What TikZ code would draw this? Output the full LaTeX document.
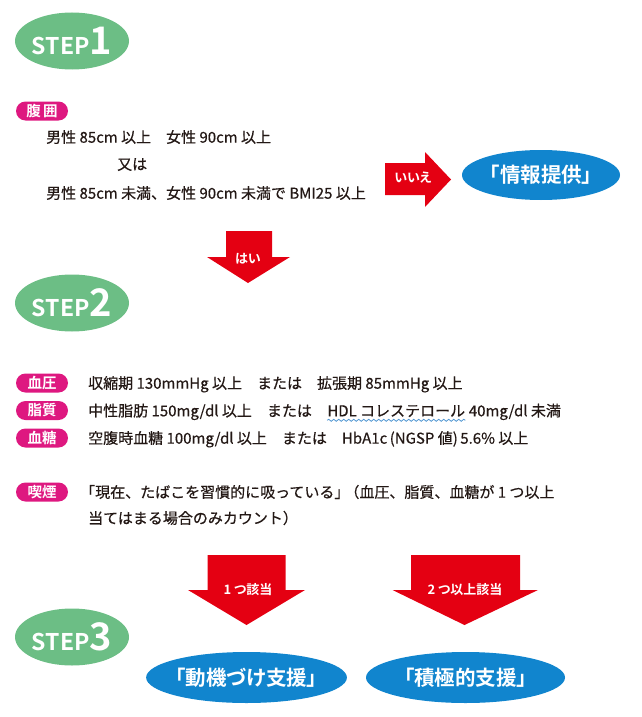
\documentclass[tikz,border=0pt]{standalone}
\usepackage{fontspec}
\setmainfont{Noto Sans CJK JP}[BoldFont={Noto Sans CJK JP Bold}]
\newfontfamily\propfont{Noto Sans CJK JP}[BoldFont={Noto Sans CJK JP Bold},RawFeature=+palt]
\newfontfamily\bodyfont{Noto Sans CJK JP}[FakeBold=0.5]
\usetikzlibrary{shapes.geometric,decorations.pathmorphing}
\definecolor{stepgreen}{RGB}{108,190,133}
\definecolor{resultblue}{RGB}{17,133,206}
\definecolor{arrowred}{RGB}{228,0,18}
\definecolor{pillpink}{RGB}{222,24,128}
\definecolor{wavyblue}{RGB}{80,150,210}
\definecolor{bodyink}{RGB}{35,24,21}
\tikzset{
  stepbadge/.style={ellipse, fill=stepgreen, minimum width=114pt, minimum height=57pt,
    inner sep=0pt, text=white, font=\bfseries\fontsize{23pt}{23pt}\selectfont},
  resultoval/.style={ellipse, fill=resultblue, inner sep=0pt, text=white,
    font=\propfont\bfseries\fontsize{20.5pt}{20.5pt}\selectfont},
  itempill/.style={rectangle, fill=pillpink, rounded corners=9.5pt, minimum width=52pt,
    minimum height=19pt, inner sep=0pt, text=white, font=\bfseries\fontsize{14.5pt}{14.5pt}\selectfont},
  itemtext/.style={anchor=base west, inner sep=0pt, text=bodyink, font=\bodyfont\fontsize{15pt}{15pt}\selectfont},
  arrowlabel/.style={inner sep=0pt, text=white, font=\propfont\bfseries\fontsize{13pt}{13pt}\selectfont},
  wavyline/.style={draw=wavyblue, line width=0.8pt, decorate, decoration={snake, amplitude=1pt, segment length=5pt}}
}
\begin{document}
\begin{tikzpicture}[x=1pt,y=-1pt]
\useasboundingbox (0,0) rectangle (641,717);
% step 1
\node[stepbadge] (step1) at (72,41) {STEP{\fontsize{38pt}{38pt}\selectfont 1}\hspace{6pt}};
\node[itempill] (waist) at (42,111) {腹\,囲};
\node[itemtext] (waistA) at (46,142.7) {男性 85cm 以上　女性 90cm 以上};
\node[itemtext] (waistOr) at (117,169.7) {又は};
\node[itemtext] (waistB) at (46,198.7) {男性 85cm 未満、女性 90cm 未満で BMI25 以上};
\fill[arrowred] (385,163) -- (425,163) -- (425,152) -- (451,179.5) -- (425,207) -- (425,195) -- (385,195) -- cycle;
\node[arrowlabel] (no) at (413,178) {いいえ};
\node[resultoval, minimum width=158pt, minimum height=50pt] (info) at (541,175) {「情報提供」};
\fill[arrowred] (226,231) -- (272,231) -- (272,257) -- (290,257) -- (248,283) -- (207,257) -- (226,257) -- cycle;
\node[arrowlabel] (yes) at (248,259) {はい};
% step 2
\node[stepbadge] (step2) at (72,303) {STEP{\fontsize{38pt}{38pt}\selectfont 2}\hspace{6pt}};
\node[itempill] (bp) at (42,383) {血圧};
\node[itempill] (lipid) at (42,410.5) {脂質};
\node[itempill] (sugar) at (42,438) {血糖};
\node[itempill] (smoke) at (42,492) {喫煙};
\node[itemtext] (bpText) at (88,388.7) {収縮期 130mmHg 以上　または　拡張期 85mmHg 以上};
\node[itemtext] (lipidA) at (88,416.3) {中性脂肪 150mg/dl 以上　または　};
\node[itemtext] (hdl) at (lipidA.base east) {HDL コレステロール};
\node[itemtext] (lipidB) at (hdl.base east) {\ 40mg/dl 未満};
\draw[wavyline] ([yshift=-4pt]hdl.base west) -- ([yshift=-4pt]hdl.base east);
\node[itemtext] (sugarText) at (88,443.7) {空腹時血糖 100mg/dl 以上　または　HbA1c\,(NGSP 値)\,5.6\% 以上};
\node[itemtext] (smokeA) at (80,497.7) {「現在、たばこを習慣的に吸っている」\hspace{-5pt}（血圧、脂質、血糖が 1 つ以上};
\node[itemtext] (smokeB) at (88,523.7) {当てはまる場合のみカウント）};
% step 3
\fill[arrowred] (207.5,555) -- (285.5,555) -- (285.5,590) -- (305,590) -- (246.5,625) -- (188,590) -- (207.5,590) -- cycle;
\node[arrowlabel] (oneHit) at (248,590) {1 つ該当};
\fill[arrowred] (411,555) -- (520,555) -- (520,590) -- (538,590) -- (464.5,625) -- (392.5,590) -- (411,590) -- cycle;
\node[arrowlabel] (twoHit) at (465,590) {2 つ以上該当};
\node[stepbadge] (step3) at (72,637) {STEP{\fontsize{38pt}{38pt}\selectfont 3}\hspace{6pt}};
\node[resultoval, minimum width=197pt, minimum height=51pt] (motiv) at (246.5,677.5) {「動機づけ支援」};
\node[resultoval, minimum width=199pt, minimum height=51pt] (active) at (465.5,677.5) {「積極的支援」};
\end{tikzpicture}
\end{document}
